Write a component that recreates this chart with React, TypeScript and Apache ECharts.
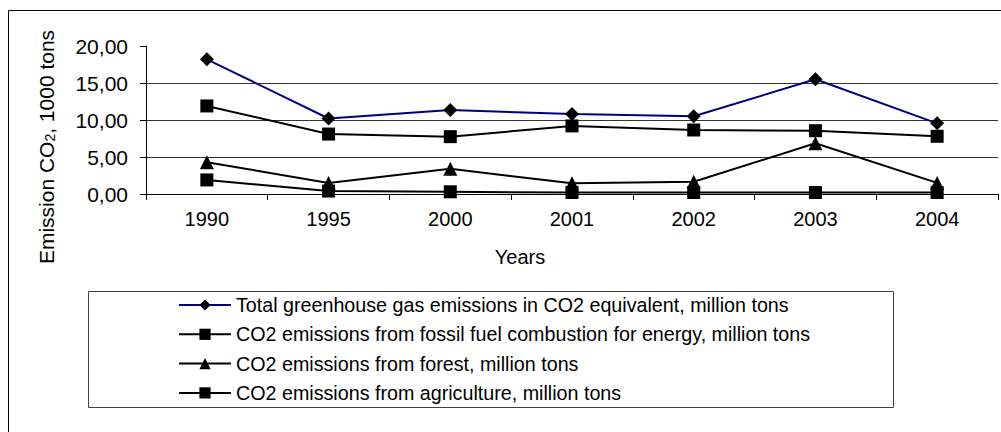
import React, { useEffect, useRef } from "react";
import * as echarts from "echarts";

const years = ["1990", "1995", "2000", "2001", "2002", "2003", "2004"];
const totalGhg = [18.2, 10.2, 11.35, 10.8, 10.5, 15.5, 9.55];
const fossilFuel = [11.9, 8.1, 7.75, 9.2, 8.65, 8.55, 7.8];
const forest = [4.3, 1.5, 3.4, 1.45, 1.65, 6.85, 1.5];
const agriculture = [1.9, 0.4, 0.3, 0.2, 0.2, 0.2, 0.2];
const seriesNames = [
  "Total greenhouse gas emissions in CO2 equivalent, million tons",
  "CO2 emissions from fossil fuel combustion for energy, million tons",
  "CO2 emissions from forest, million tons",
  "CO2 emissions from agriculture, million tons",
];

const FONT = "'Liberation Sans', Arial, sans-serif";

export default function App() {
  const ref = useRef<HTMLDivElement>(null);
  useEffect(() => {
    if (!ref.current) return;
    const chart = echarts.init(ref.current, null, { renderer: "svg" });
    const mk = (name: string, data: number[], color: string, symbol: string, size: number) => ({
      name,
      type: "line",
      data,
      symbol,
      symbolSize: size,
      showAllSymbol: true,
      lineStyle: { color, width: 2 },
      itemStyle: { color: "#000" },
      emphasis: { disabled: true },
    });
    chart.setOption({
      animation: false,
      backgroundColor: "#fff",
      textStyle: { fontFamily: FONT },
      grid: { left: 146, right: 3, top: 46, bottom: 238, containLabel: false },
      xAxis: {
        type: "category",
        data: years,
        boundaryGap: true,
        axisLine: { show: true, lineStyle: { color: "#000", width: 1 } },
        axisTick: { show: true, length: 6, lineStyle: { color: "#000" } },
        axisLabel: { color: "#000", fontSize: 20, fontFamily: FONT, margin: 15 },
        splitLine: { show: false },
      },
      yAxis: {
        type: "value",
        min: 0,
        max: 20,
        interval: 5,
        axisLine: { show: true, lineStyle: { color: "#000", width: 1 } },
        axisTick: { show: true, length: 6, lineStyle: { color: "#000" } },
        axisLabel: {
          color: "#000",
          fontSize: 21,
          fontFamily: FONT,
          margin: 18,
          formatter: (v: number) => v.toFixed(2).replace(".", ","),
        },
        splitLine: { show: true, showMaxLine: false, lineStyle: { color: "#333", width: 1 } },
      },
      legend: {
        orient: "vertical",
        left: 178,
        top: 295,
        itemWidth: 52,
        itemHeight: 14,
        itemGap: 9.3,
        padding: 0,
        textStyle: { color: "#000", fontSize: 19.7, fontFamily: FONT, lineHeight: 20 },
        data: seriesNames,
      },
      series: [
        mk(seriesNames[0], totalGhg, "#000080", "diamond", 14),
        mk(seriesNames[1], fossilFuel, "#000", "rect", 13),
        mk(seriesNames[2], forest, "#000", "triangle", 14),
        mk(seriesNames[3], agriculture, "#000", "rect", 13),
      ],
      graphic: [
        {
          type: "rect",
          shape: { x: 8.5, y: 10.5, width: 1100, height: 600 },
          style: { fill: "none", stroke: "#000", lineWidth: 1 },
          silent: true,
        },
        {
          type: "rect",
          shape: { x: 88.5, y: 291.5, width: 805, height: 116 },
          style: { fill: "none", stroke: "#404040", lineWidth: 1 },
          silent: true,
        },
        {
          type: "text",
          x: 520,
          y: 257,
          style: {
            text: "Years",
            fill: "#000",
            font: `20px ${FONT}`,
            align: "center",
            verticalAlign: "middle",
          },
          silent: true,
        },
        {
          type: "text",
          x: 46,
          y: 147,
          rotation: Math.PI / 2,
          style: {
            text: "Emission CO{sub|2}, 1000 tons",
            fill: "#000",
            font: `21px ${FONT}`,
            align: "center",
            verticalAlign: "middle",
            rich: {
              sub: { fontSize: 14, fontFamily: FONT, fill: "#000", padding: [8, 0, 0, 0] },
            },
          },
          silent: true,
        },
      ],
    });
    return () => chart.dispose();
  }, []);
  return (
    <div
      ref={ref}
      style={{ position: "absolute", left: 0, top: 0, width: 1001, height: 432 }}
    />
  );
}
